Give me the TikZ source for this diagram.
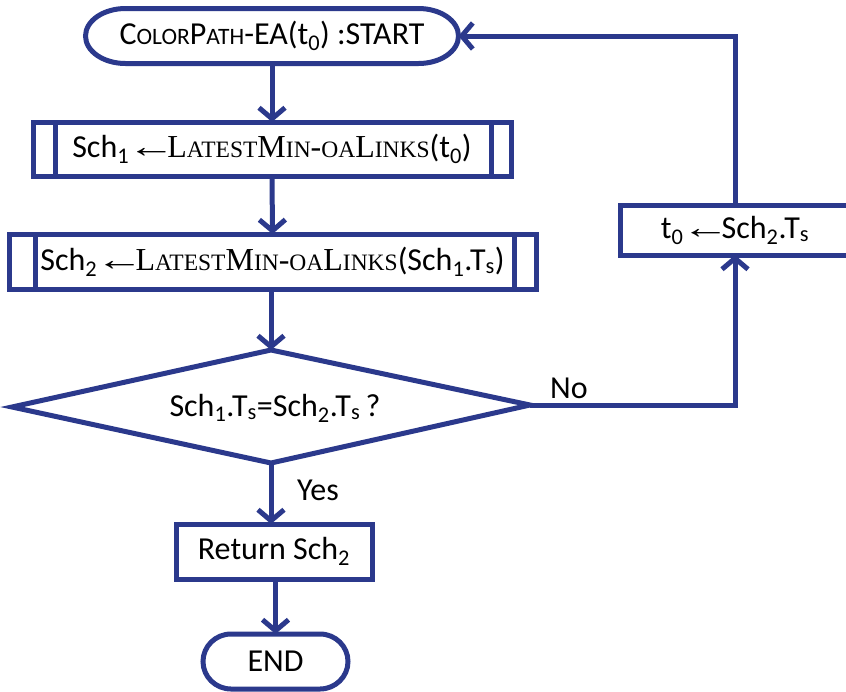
\documentclass[tikz,border=0pt]{standalone}
\usepackage{fontspec}
\setmainfont{Carlito}
\newfontfamily\serifsc{Liberation Serif}
\usetikzlibrary{arrows.meta,calc}
\definecolor{flowblue}{RGB}{43,57,140}

% hand-made small capitals, subscripts and a long assignment arrow
\newcommand{\smc}[1]{{\fontsize{23.5}{26}\selectfont #1}}
\newcommand{\sub}[1]{\textsubscript{#1}}
\newcommand{\larr}{{\kern-9pt\serifsc\scalebox{1.5}[1]{←}\kern-8pt}}

\begin{document}
\begin{tikzpicture}[x=1pt,y=-1pt,
  flow/.style={draw=flowblue,line width=5pt},
  txt/.style={font=\fontsize{32}{36}\selectfont,text=black,inner sep=0pt},
  procbox/.style={flow,rectangle,txt,outer sep=0pt},
  arr/.style={flowblue,line width=5pt,-{Straight Barb[length=11pt,width=26pt]}}]
\clip (0,0) rectangle (846,691);
\fill[white] (0,0) rectangle (846,691);

% start terminal
\node[txt,minimum width=373pt,minimum height=55pt,outer sep=0pt] (start) at (272,36)
  {C\smc{OLOR}P\smc{ATH}-EA(t\sub{0}) :START};
\draw[flow] ($(start.north west)+(40,0)$) -- ($(start.north east)+(-40,0)$)
  arc[start angle=90,end angle=-90,x radius=40pt,y radius=27.5pt]
  -- ($(start.south west)+(40,0)$)
  arc[start angle=270,end angle=90,x radius=40pt,y radius=27.5pt] -- cycle;

% predefined processes
\node[procbox,minimum width=478pt,minimum height=54pt] (b1) at (272,149)
  {Sch\sub{1} \larr{\serifsc L\smc{ATEST}M\smc{IN}-\smc{OA}L\smc{INKS}}(t\sub{0})};
\draw[flow] ([xshift=22pt]b1.north west) -- ([xshift=22pt]b1.south west);
\draw[flow] ([xshift=-20pt]b1.north east) -- ([xshift=-20pt]b1.south east);

\node[procbox,minimum width=527pt,minimum height=55pt] (b2) at (272.5,261.5)
  {Sch\sub{2} \larr{\serifsc L\smc{ATEST}M\smc{IN}-\smc{OA}L\smc{INKS}}(Sch\sub{1}.T\sub{s})};
\draw[flow] ([xshift=26pt]b2.north west) -- ([xshift=26pt]b2.south west);
\draw[flow] ([xshift=-22pt]b2.north east) -- ([xshift=-22pt]b2.south east);

% decision
\coordinate (dtop) at (271,350);
\coordinate (dright) at (530,405);
\coordinate (dbot) at (271,463);
\coordinate (dleft) at (12,407);
\draw[flow,line join=miter] (dtop) -- (dright) -- (dbot) -- (dleft) -- cycle;
\node[txt] (dec) at (275,408) {Sch\sub{1}.T\sub{s}=Sch\sub{2}.T\sub{s}\,?};

% update box on the loop
\node[procbox,minimum width=230pt,minimum height=50pt] (b3) at (735,230)
  {t\sub{0} \larr{}Sch\sub{2}.T\sub{s}};

% result and end
\node[procbox,minimum width=196pt,minimum height=55pt] (ret) at (274,551.5)
  {Return Sch\sub{2}};
\node[txt,minimum width=145pt,minimum height=55pt,outer sep=0pt] (end) at (275.5,661.5) {END};
\draw[flow] ($(end.north west)+(28,0)$) -- ($(end.north east)+(-28,0)$)
  arc[start angle=90,end angle=-90,x radius=28pt,y radius=27.5pt]
  -- ($(end.south west)+(28,0)$)
  arc[start angle=270,end angle=90,x radius=28pt,y radius=27.5pt] -- cycle;

% connectors
\draw[arr] (start.south) -- (b1.north);
\draw[arr] (b1.south) -- (b2.north);
\draw[arr] (b2.south -| dtop) -- (dtop);
\draw[arr] (dbot) -- (dbot |- ret.north);
\draw[arr] (ret.south -| end.north) -- (end.north);
\draw[arr] (dright) -| (b3.south);
\draw[arr] (b3.north) |- (start.east);

% branch labels
\node[txt] (no) at (569,388) {No};
\node[txt] (yes) at (318,490) {Yes};
\end{tikzpicture}
\end{document}
